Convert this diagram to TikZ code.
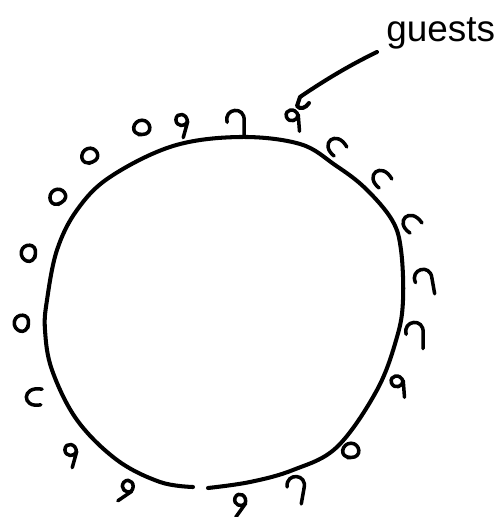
\documentclass[tikz,border=0pt]{standalone}
\usepackage{fontspec}
\setmainfont{Liberation Sans}
\usepackage{tikz}
\usetikzlibrary{positioning}

\begin{document}
\begin{tikzpicture}[
    x=0.02cm, y=-0.02cm,
    every node/.style={font=\fontsize{21}{24}\selectfont},
    pen/.style={line width=2.3pt, line cap=round, line join=round},
    tick/.style={line width=2pt, line cap=round, line join=round},
    gloop/.pic={\draw[tick] (0,5) .. controls (-10,5) and (-7,-6) .. (0,-6) .. controls (7,-6) and (9,5) .. (0,5) -- (-3,5);},
    garch/.pic={\draw[tick] (-6,6) .. controls (-9,-9) and (9,-9) .. (6,7);},
    ghook/.pic={\draw[tick] (-6,1) .. controls (-9,-10) and (8,-12) .. (7,0) -- (7,12);},
    gnine/.pic={\draw[tick] (4,-1) .. controls (2,-8) and (-7,-6) .. (-5,0) .. controls (-3,5) and (4,3) .. (4,-2) -- (5,11);},
    guest/.style={scale=1.3},
]
\useasboundingbox (0,0) rectangle (502,517);

% the table
\draw[pen] plot[smooth, tension=0.6] coordinates {
    (193,487) (160,482) (117,460) (77,420) (52,370) (45,330) (47,300)
    (57,250) (77,210) (110,177) (173,146) (240,137) (300,144) (335,165)
    (365,188) (392,220) (401,250) (403,300) (397,337) (377,390)
    (337,447) (293,470) (250,482) (208,488)};

% guests round it
\pic[guest] at (142,128) {gloop};
\pic[guest, rotate=-20] at (182,122) {gnine};
\pic[guest] at (235,121) {ghook};
\pic[guest] at (293,117) {gnine};
\pic[guest, rotate=40] at (335,145) {garch};
\pic[guest, rotate=40] at (380,177) {garch};
\pic[guest, rotate=45] at (410,222) {garch};
\pic[guest, rotate=10] at (423,280) {ghook};
\pic[guest] at (414,333) {ghook};
\pic[guest] at (398,383) {gnine};
\pic[guest] at (351,451) {gloop};
\pic[guest, rotate=-10] at (295,487) {ghook};
\pic[guest, rotate=-40] at (240,502) {gnine};
\pic[guest, rotate=-60] at (127,488) {gnine};
\pic[guest, rotate=-20] at (71,452) {gnine};
\pic[guest, rotate=90] at (33,397) {garch};
\pic[guest, rotate=80] at (22,323) {gloop};
\pic[guest, rotate=80] at (29,253) {gloop};
\pic[guest, rotate=30] at (58,197) {gloop};
\pic[guest, rotate=20] at (90,156) {gloop};

% label
\node[anchor=base west, inner sep=0pt] (label) at (386,42) {guests};
\coordinate (tail) at (377,52);
\coordinate (tip) at (300,97);
\draw[pen] (tail) .. controls (350,65) and (325,80) .. (tip)
    -- (297,106) .. controls (300,110) and (306,108) .. (309,103);

\end{tikzpicture}
\end{document}
